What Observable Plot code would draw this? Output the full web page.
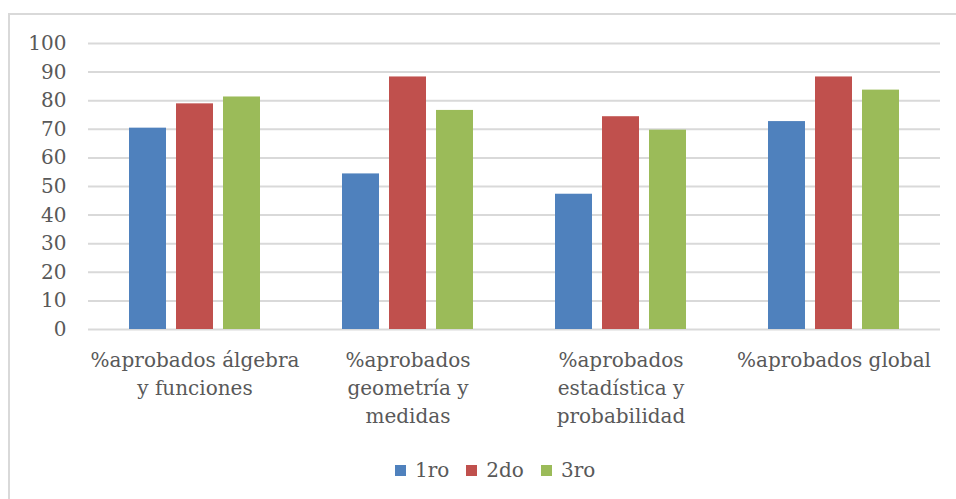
<!DOCTYPE html>
<html>
<head>
<meta charset="utf-8">
<script src="https://cdn.jsdelivr.net/npm/d3@7"></script>
<script src="https://cdn.jsdelivr.net/npm/@observablehq/plot@0.6"></script>
<style>
  html, body { margin: 0; padding: 0; background: #fff; }
  #wrap { position: relative; width: 956px; height: 499px; overflow: hidden; font-family: "DejaVu Serif", serif; }
  #frame { position: absolute; left: 8px; top: 13px; width: 980px; height: 520px; border: 2px solid #d9d9d9; box-sizing: border-box; }
  .layer { position: absolute; left: 0; top: 0; }
  #legend { position: absolute; left: 395px; top: 458px; display: flex; align-items: center; font-size: 20px; color: #595959; }
  #legend .item { display: flex; align-items: center; margin-right: 17px; }
  #legend .sw { width: 11px; height: 11px; margin-right: 9px; }
</style>
</head>
<body>
<div id="wrap">
  <div id="frame"></div>
  <div id="axes" class="layer"></div>
  <div id="bars" class="layer"></div>
  <div id="legend"></div>
</div>
<script>
// Categories (x groups) and their wrapped tick labels
const categories = [
  "%aprobados álgebra y funciones",
  "%aprobados geometría y medidas",
  "%aprobados estadística y probabilidad",
  "%aprobados global"
];
const categoryLabels = [
  "%aprobados álgebra\ny funciones",
  "%aprobados\ngeometría y\nmedidas",
  "%aprobados\nestadística y\nprobabilidad",
  "%aprobados global"
];

// Series
const series = ["1ro", "2do", "3ro"];
const values1ro = [70.4, 54.4, 47.3, 72.7];
const values2do = [78.9, 88.3, 74.4, 88.3];
const values3ro = [81.3, 76.6, 69.7, 83.7];
const seriesColors = ["#4f81bd", "#c0504d", "#9bbb59"];

// Y axis ticks
const yTicks = [0, 10, 20, 30, 40, 50, 60, 70, 80, 90, 100];

const valuesBySeries = [values1ro, values2do, values3ro];
const data = categories.flatMap((c, i) =>
  series.map((s, j) => ({ category: c, serie: s, value: valuesBySeries[j][i] }))
);
const labelOf = new Map(categories.map((c, i) => [c, categoryLabels[i]]));

const textColor = "#595959";
const gridColor = "#d9d9d9";

// Shared frame geometry for both layers
const frame = { width: 956, height: 440, marginLeft: 88, marginRight: 16, marginTop: 43, marginBottom: 111 };
const fontStyle = { fontFamily: "DejaVu Serif, serif", fontSize: "20px", color: textColor, background: "transparent" };

// Background layer: full-width gridlines, value axis and category labels
const axes = Plot.plot({
  ...frame,
  style: fontStyle,
  x: { type: "band", domain: categories, padding: 0, label: null },
  y: { domain: [0, 100], label: null },
  marks: [
    Plot.gridY(yTicks, { stroke: gridColor, strokeWidth: 2, strokeOpacity: 1 }),
    Plot.axisY({ ticks: yTicks, tickSize: 0, tickPadding: 22, fontSize: 20, fill: textColor, label: null }),
    Plot.axisX({ tickSize: 0, tickPadding: 18, fontSize: 20, fill: textColor, lineHeight: 1.4,
                 tickFormat: (d) => labelOf.get(d), label: null })
  ]
});
document.getElementById("axes").appendChild(axes);

// Foreground layer: clustered bars, one facet per category
const bars = Plot.plot({
  ...frame,
  style: fontStyle,
  fx: { domain: categories, paddingInner: 0.385, paddingOuter: 0.1925, axis: null, label: null },
  x: { domain: series, paddingInner: 0.213, paddingOuter: 0, axis: null },
  y: { domain: [0, 100], axis: null },
  color: { domain: series, range: seriesColors },
  marks: [
    Plot.barY(data, { fx: "category", x: "serie", y: "value", fill: "serie", inset: 0 })
  ]
});
document.getElementById("bars").appendChild(bars);

// Legend
const legend = document.getElementById("legend");
series.forEach((s, j) => {
  const item = document.createElement("div");
  item.className = "item";
  const sw = document.createElement("span");
  sw.className = "sw";
  sw.style.background = seriesColors[j];
  const t = document.createElement("span");
  t.textContent = s;
  item.appendChild(sw);
  item.appendChild(t);
  legend.appendChild(item);
});
</script>
</body>
</html>
